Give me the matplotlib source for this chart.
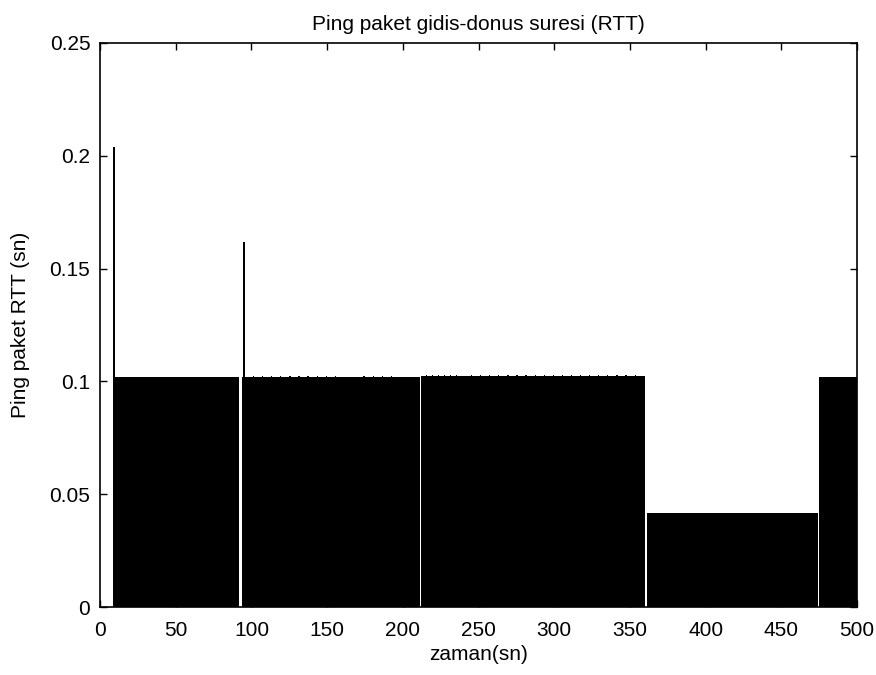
import numpy as np
import matplotlib.pyplot as plt

# RTT blocks: start, end (s) and level (s)
block_start = [8.8, 94.0, 212.0, 361.0, 475.0]
block_end = [92.0, 211.0, 360.0, 474.0, 500.0]
block_level = [0.102, 0.102, 0.1022, 0.0415, 0.102]

# single tall samples
spike_x = [8.8, 94.2]
spike_y = [0.204, 0.162]

# small bumps along the top edge of the blocks
bump_x = [101, 107, 113, 119, 125, 131, 137, 143, 149, 155, 174, 180, 186, 192,
          215, 219, 223, 227, 231, 235, 245, 251, 257, 263, 269, 275, 281, 287,
          293, 299, 305, 311, 317, 323, 329, 335, 341, 347, 353,
          372, 381, 420, 430, 462]
bump_y = [0.1026, 0.1025, 0.1026, 0.1025, 0.1026, 0.1025, 0.1026, 0.1025, 0.1026, 0.1025,
          0.1025, 0.1026, 0.1025, 0.1026,
          0.1029, 0.1028, 0.1029, 0.1028, 0.1029, 0.1028, 0.1028, 0.1028, 0.1028, 0.1028,
          0.1028, 0.1028, 0.1028, 0.1028, 0.1028, 0.1028, 0.1028, 0.1028, 0.1028, 0.1028,
          0.1028, 0.1028, 0.1028, 0.1028, 0.1028,
          0.0418, 0.0418, 0.0418, 0.0418, 0.0418]

plt.rcParams['font.family'] = ['Liberation Sans', 'DejaVu Sans']

fig = plt.figure(figsize=(8.76, 6.75), dpi=100)
ax = fig.add_axes([0.1142, 0.1007, 0.8642, 0.8356])

widths = np.array(block_end) - np.array(block_start)
ax.bar(block_start, block_level, width=widths, align='edge', color='black', linewidth=0)
ax.bar(spike_x, spike_y, width=1.3, align='edge', color='black', linewidth=0)
ax.bar(bump_x, bump_y, width=0.8, align='edge', color='black', linewidth=0)

ax.set_xlim(0, 500)
ax.set_ylim(0, 0.25)
ax.set_xticks(np.arange(0, 501, 50))
ax.set_yticks([0, 0.05, 0.1, 0.15, 0.2, 0.25])
ax.set_yticklabels(['0', '0.05', '0.1', '0.15', '0.2', '0.25'])
ax.tick_params(direction='in', top=True, right=True, length=5, width=1,
               labelsize=15, colors='black')
ax.tick_params(axis='x', pad=10)
ax.tick_params(axis='y', pad=7)
for s in ax.spines.values():
    s.set_linewidth(1.2)

ax.set_title('Ping paket gidis-donus suresi (RTT)', fontsize=15, pad=9)
ax.set_xlabel('zaman(sn)', fontsize=15, labelpad=4)
ax.set_ylabel('Ping paket RTT (sn)', fontsize=15, labelpad=14)

fig.savefig('out.png', dpi=100)
